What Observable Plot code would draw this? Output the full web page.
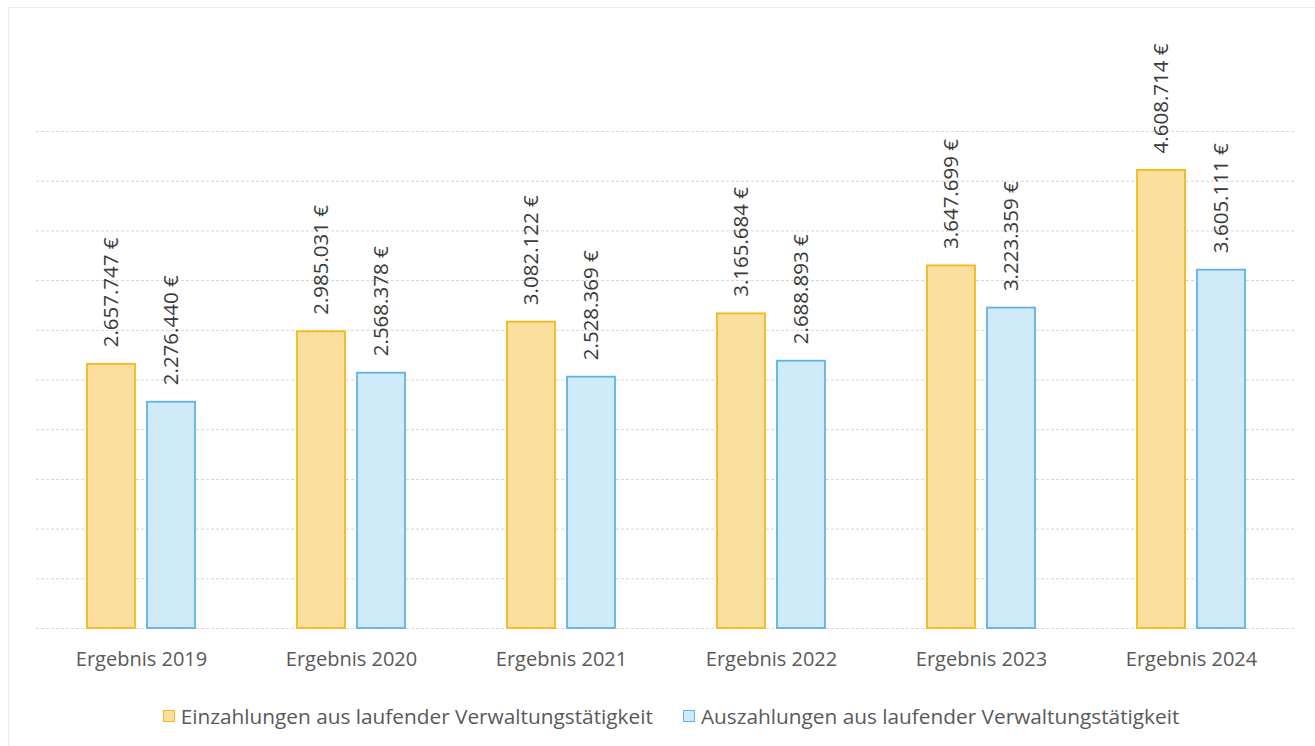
<!DOCTYPE html>
<html>
<head>
<meta charset="utf-8">
<script src="https://cdn.jsdelivr.net/npm/d3@7"></script>
<script src="https://cdn.jsdelivr.net/npm/@observablehq/plot@0.6"></script>
<style>
  html, body { margin: 0; padding: 0; background: #fff; }
  #wrap { position: relative; width: 1315px; height: 746px; overflow: hidden; font-family: "Open Sans", sans-serif; }
  #frame { position: absolute; left: 8px; top: 7px; width: 1320px; height: 760px; border: 1px solid #ececec; box-sizing: border-box; pointer-events: none; }
  #legend { position: absolute; left: 0; top: 702px; width: 1315px; display: flex; justify-content: center; gap: 30px; font-size: 20.8px; color: #595959; padding-left: 27px; box-sizing: border-box; }
  .item { display: flex; align-items: center; gap: 6px; }
  .sw { width: 12px; height: 12px; box-sizing: border-box; border: 1.5px solid; }
</style>
</head>
<body>
<div id="wrap">
  <div id="chart"></div>
  <div id="legend"></div>
  <div id="frame"></div>
</div>
<script>
const categories = ["Ergebnis 2019", "Ergebnis 2020", "Ergebnis 2021", "Ergebnis 2022", "Ergebnis 2023", "Ergebnis 2024"];
const seriesNames = ["Einzahlungen aus laufender Verwaltungstätigkeit", "Auszahlungen aus laufender Verwaltungstätigkeit"];
const einzahlungen = [2657747, 2985031, 3082122, 3165684, 3647699, 4608714];
const auszahlungen = [2276440, 2568378, 2528369, 2688893, 3223359, 3605111];
const yTicks = [0, 500000, 1000000, 1500000, 2000000, 2500000, 3000000, 3500000, 4000000, 4500000, 5000000];

const fills = ["#FADF9E", "#CFEBFA"];
const strokes = ["#F3B81A", "#62B1E6"];

const fmt = v => String(v).replace(/\B(?=(\d{3})+(?!\d))/g, ".") + " €";

const ein = categories.map((c, i) => ({cat: c, value: einzahlungen[i]}));
const aus = categories.map((c, i) => ({cat: c, value: auszahlungen[i]}));

const chart = Plot.plot({
  width: 1315,
  height: 690,
  marginLeft: 36,
  marginRight: 19,
  marginTop: 131,
  marginBottom: 62,
  style: {fontFamily: "Open Sans, sans-serif", background: "transparent"},
  x: {domain: categories, paddingInner: 0.486, paddingOuter: 0.243, label: null},
  y: {domain: [0, 5000000], axis: null},
  marks: [
    Plot.ruleY(yTicks, {stroke: "#d6d6d6", strokeDasharray: "3,2", strokeWidth: 1}),
    Plot.barY(ein, {x: "cat", y: "value", fill: fills[0], stroke: strokes[0], strokeWidth: 1.8, insetRight: 60}),
    Plot.barY(aus, {x: "cat", y: "value", fill: fills[1], stroke: strokes[1], strokeWidth: 1.8, insetLeft: 60}),
    Plot.text(ein, {x: "cat", y: "value", text: d => fmt(d.value), rotate: -90, textAnchor: "start", dx: -30, dy: -17, fontSize: 20.5, fill: "#3a3a3a"}),
    Plot.text(aus, {x: "cat", y: "value", text: d => fmt(d.value), rotate: -90, textAnchor: "start", dx: 30, dy: -17, fontSize: 20.5, fill: "#3a3a3a"}),
    Plot.axisX({tickSize: 0, tickPadding: 23, fontSize: 20, fill: "#595959", label: null})
  ]
});
document.getElementById("chart").appendChild(chart);

const legend = document.getElementById("legend");
seriesNames.forEach((name, i) => {
  const item = document.createElement("div");
  item.className = "item";
  const sw = document.createElement("span");
  sw.className = "sw";
  sw.style.background = fills[i];
  sw.style.borderColor = strokes[i];
  const t = document.createElement("span");
  t.textContent = name;
  item.appendChild(sw);
  item.appendChild(t);
  legend.appendChild(item);
});
</script>
</body>
</html>
